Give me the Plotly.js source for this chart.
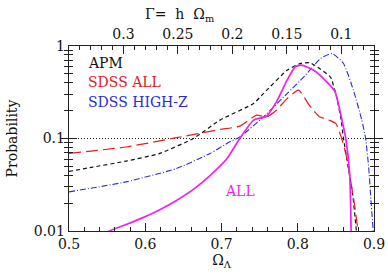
<!DOCTYPE html>
<html>
<head>
<meta charset="utf-8">
<script src="https://cdn.plot.ly/plotly-3.0.1.min.js"></script>
<style>
  html, body { margin: 0; padding: 0; background: #fff; }
  #chart { width: 388px; height: 276px; }
</style>
</head>
<body>
<div id="chart"></div>
<script>
// Likelihood of Omega_Lambda for each galaxy sample
const apmX = [0.5, 0.531, 0.575, 0.619, 0.663, 0.698, 0.742, 0.755, 0.786, 0.803, 0.816, 0.830, 0.843, 0.851, 0.857, 0.860, 0.866, 0.872, 0.878];
const apmY = [0.044, 0.049, 0.057, 0.069, 0.1, 0.158, 0.239, 0.306, 0.547, 0.646, 0.66, 0.56, 0.46, 0.28, 0.158, 0.1, 0.05, 0.025, 0.008];

const sdssAllX = [0.5, 0.575, 0.641, 0.698, 0.724, 0.746, 0.759, 0.772, 0.786, 0.801, 0.815, 0.828, 0.841, 0.850, 0.857, 0.864, 0.870, 0.875, 0.879];
const sdssAllY = [0.069, 0.081, 0.102, 0.125, 0.136, 0.179, 0.171, 0.202, 0.27, 0.333, 0.23, 0.173, 0.158, 0.145, 0.104, 0.063, 0.0325, 0.018, 0.01];

const highZX = [0.5, 0.575, 0.641, 0.685, 0.711, 0.724, 0.755, 0.786, 0.808, 0.830, 0.845, 0.860, 0.873, 0.884, 0.889, 0.893, 0.896, 0.899];
const highZY = [0.0265, 0.034, 0.0474, 0.069, 0.092, 0.104, 0.171, 0.306, 0.463, 0.733, 0.83, 0.646, 0.333, 0.158, 0.1, 0.049, 0.0216, 0.01];

const allX = [0.545, 0.553, 0.575, 0.597, 0.619, 0.641, 0.663, 0.685, 0.707, 0.724, 0.742, 0.759, 0.772, 0.786, 0.797, 0.805, 0.821, 0.838, 0.849, 0.858, 0.863, 0.868, 0.870, 0.8702];
const allY = [0.0088, 0.01, 0.01175, 0.01396, 0.01698, 0.0214, 0.0282, 0.0398, 0.0603, 0.1, 0.158, 0.174, 0.249, 0.427, 0.6, 0.62, 0.547, 0.41, 0.32, 0.158, 0.1, 0.042, 0.0095, 0.005];

// Top axis: shape parameter Gamma = h * Omega_m
const gammaTicks = [0.3, 0.25, 0.2, 0.15, 0.1];
const gammaLabels = ['0.3', '0.25', '0.2', '0.15', '0.1'];
const refLevel = 0.1;

const FONT = 'DejaVu Serif, Liberation Serif, serif';
const TICK = '#222';

// minor tick positions for each axis
function steps(from, to, step, skipEvery) {
  const out = [];
  const n = Math.round((to - from) / step);
  for (let i = 0; i <= n; i++) {
    if (skipEvery && i % skipEvery === 0) continue;
    out.push(+(from + i * step).toFixed(4));
  }
  return out;
}
const omegaMinor = steps(0.5, 0.9, 0.02, 5);
const gammaMinor = steps(0.05, 0.35, 0.01, 5);
const probMinor = [];
[0.01, 0.1].forEach(d => { for (let k = 2; k <= 9; k++) probMinor.push(+(k * d).toFixed(4)); });

function curve(x, y, color, dash, width) {
  return {
    x: x, y: y, type: 'scatter', mode: 'lines',
    line: { color: color, dash: dash, width: width, shape: 'spline', smoothing: 0.5 },
    hoverinfo: 'skip', showlegend: false
  };
}
function carrier(xa, ya) {
  return { x: [], y: [], xaxis: xa, yaxis: ya, type: 'scatter', mode: 'lines',
    hoverinfo: 'skip', showlegend: false };
}

const traces = [
  curve(apmX, apmY, '#111111', '4px,3px', 1.2),
  curve(sdssAllX, sdssAllY, '#e02020', '12px,5px', 1.2),
  curve(highZX, highZY, '#2b2bd6', '6px,2px,1px,2px', 1.1),
  curve(allX, allY, '#ee22ee', 'solid', 1.7),
  carrier('x2', 'y'),
  carrier('x3', 'y2'),
  carrier('x4', 'y2')
];

const majorTicks = { ticks: 'inside', ticklen: 8, tickwidth: 1, tickcolor: TICK };
const minorAxis = { ticks: 'inside', ticklen: 4, tickwidth: 1, tickcolor: TICK,
  showticklabels: false, showline: false, showgrid: false, zeroline: false, tickmode: 'array' };

const layout = {
  width: 388, height: 276,
  margin: { l: 69, r: 14, t: 46, b: 45 },
  paper_bgcolor: '#fff', plot_bgcolor: '#fff',
  font: { family: FONT, size: 14, color: '#111' },
  xaxis: Object.assign({
    range: [0.5, 0.9], dtick: 0.1, tick0: 0.5, tickformat: '.1f',
    showline: true, linecolor: TICK, linewidth: 1.3, mirror: false,
    showgrid: false, zeroline: false,
    tickfont: { family: FONT, size: 14 },
    title: { text: 'Ω<sub>Λ</sub>', font: { family: FONT, size: 14 }, standoff: 4 }
  }, majorTicks),
  xaxis2: Object.assign({
    overlaying: 'x', side: 'top', anchor: 'y',
    range: [0.35, 0.07],
    tickmode: 'array', tickvals: gammaTicks, ticktext: gammaLabels,
    showline: true, linecolor: TICK, linewidth: 1.3,
    showgrid: false, zeroline: false,
    tickfont: { family: FONT, size: 14 }
  }, majorTicks),
  xaxis3: Object.assign({}, minorAxis, {
    overlaying: 'x', side: 'bottom', anchor: 'y2', range: [0.5, 0.9], tickvals: omegaMinor
  }),
  xaxis4: Object.assign({}, minorAxis, {
    overlaying: 'x', side: 'top', anchor: 'y2', range: [0.35, 0.07], tickvals: gammaMinor
  }),
  yaxis: Object.assign({
    type: 'log', range: [-2, 0],
    tickmode: 'array', tickvals: [0.01, 0.1, 1], ticktext: ['0.01', '0.1', '1'],
    showline: true, linecolor: TICK, linewidth: 1.3, mirror: 'allticks',
    showgrid: false, zeroline: false,
    tickfont: { family: FONT, size: 14 },
    title: { text: 'Probability', font: { family: FONT, size: 14 }, standoff: 12 }
  }, majorTicks),
  yaxis2: Object.assign({}, minorAxis, {
    overlaying: 'y', side: 'left', anchor: 'x3', type: 'log', range: [-2, 0],
    tickvals: probMinor, mirror: 'allticks'
  }),
  shapes: [
    { type: 'line', xref: 'paper', x0: 0, x1: 1, yref: 'y', y0: refLevel, y1: refLevel,
      line: { color: '#222', width: 1, dash: '1px,2px' }, layer: 'below' }
  ],
  annotations: [
    // title of the Gamma axis, over the 0.25-0.2 span
    { text: 'Γ=  h  Ω<sub>m</sub>', x: 0.364, xref: 'paper', y: 1.17, yref: 'paper',
      xanchor: 'center', yanchor: 'middle', showarrow: false,
      font: { family: FONT, size: 14, color: '#111' } },
    { text: 'APM', x: 0.055, y: 0.91, xref: 'paper', yref: 'paper', xanchor: 'left', yanchor: 'middle',
      showarrow: false, font: { family: FONT, size: 14, color: '#111' } },
    { text: 'SDSS ALL', x: 0.055, y: 0.805, xref: 'paper', yref: 'paper', xanchor: 'left', yanchor: 'middle',
      showarrow: false, font: { family: FONT, size: 14, color: '#e02020' } },
    { text: 'SDSS HIGH-Z', x: 0.055, y: 0.697, xref: 'paper', yref: 'paper', xanchor: 'left', yanchor: 'middle',
      showarrow: false, font: { family: FONT, size: 14, color: '#2b2bd6' } },
    { text: 'ALL', x: 0.505, y: 0.216, xref: 'paper', yref: 'paper', xanchor: 'left', yanchor: 'middle',
      showarrow: false, font: { family: FONT, size: 14, color: '#ee22ee' } }
  ]
};

Plotly.newPlot('chart', traces, layout, { staticPlot: true, displayModeBar: false });
</script>
</body>
</html>
